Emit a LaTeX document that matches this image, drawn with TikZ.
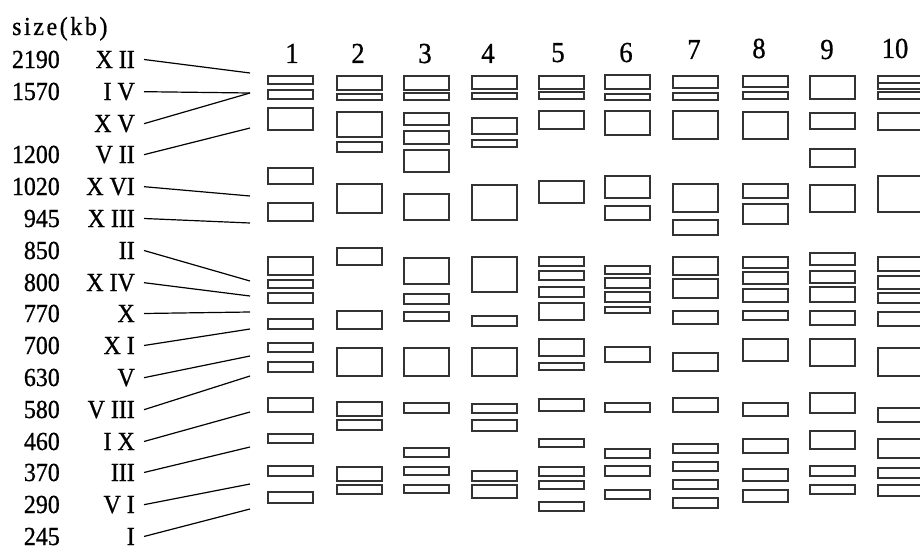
\documentclass[tikz,border=0pt]{standalone}
\usepackage{fontspec}
\setmainfont{Liberation Serif}[FakeStretch=0.92,FakeBold=0.8]
\newfontfamily\sizefont{Liberation Serif}[FakeStretch=0.92,FakeBold=0.8,LetterSpace=10]
\begin{document}
\begin{tikzpicture}[x=1pt,y=-1pt,
  band/.style={draw=black!80,line width=1.1pt,fill=white},
  conn/.style={draw=black,line width=1.2pt},
  lbl/.style={inner sep=0pt,font=\fontsize{26}{28}\selectfont,anchor=base east},
  lanenum/.style={inner sep=0pt,font=\fontsize{29}{31}\selectfont,anchor=base}]
\useasboundingbox (0,0) rectangle (920,551);
\clip (0,0) rectangle (920,551);

% header
\node[inner sep=0pt,anchor=base west,font=\fontsize{26}{28}\sizefont] (size) at (12,35) {size(kb)};

% size numbers
\node[lbl] (n1)  at (60,68)  {2190};
\node[lbl] (n2)  at (60,100) {1570};
\node[lbl] (n4)  at (60,163) {1200};
\node[lbl] (n5)  at (60,195) {1020};
\node[lbl] (n6)  at (60,227) {945};
\node[lbl] (n7)  at (60,259) {850};
\node[lbl] (n8)  at (60,291) {800};
\node[lbl] (n9)  at (60,322) {770};
\node[lbl] (n10) at (60,354) {700};
\node[lbl] (n11) at (60,386) {630};
\node[lbl] (n12) at (60,418) {580};
\node[lbl] (n13) at (60,450) {460};
\node[lbl] (n14) at (60,481) {370};
\node[lbl] (n15) at (60,513) {290};
\node[lbl] (n16) at (60,545) {245};

% chromosome labels
\node[lbl] (r1)  at (135,68)  {X II};
\node[lbl] (r2)  at (135,100) {I V};
\node[lbl] (r3)  at (135,132) {X V};
\node[lbl] (r4)  at (135,163) {V II};
\node[lbl] (r5)  at (135,195) {X VI};
\node[lbl] (r6)  at (135,227) {X III};
\node[lbl] (r7)  at (135,259) {II};
\node[lbl] (r8)  at (135,291) {X IV};
\node[lbl] (r9)  at (135,322) {X};
\node[lbl] (r10) at (135,354) {X I};
\node[lbl] (r11) at (135,386) {V};
\node[lbl] (r12) at (135,418) {V III};
\node[lbl] (r13) at (135,450) {I X};
\node[lbl] (r14) at (135,481) {III};
\node[lbl] (r15) at (135,513) {V I};
\node[lbl] (r16) at (135,545) {I};

% connector end points
\foreach \i/\y in {1/73,2/93,3/93,4/128,5/196,6/223,7/281,8/296,9/312,10/329,11/356,12/376,13/412,14/447,15/484,16/509}
  \coordinate (e\i) at (250,\y);
\foreach \i in {1,...,16}
  \draw[conn] ([xshift=9pt]r\i.east) -- (e\i);

% lane numbers
\foreach \i/\x/\y in {1/292/63,2/358/63,3/425/63,4/488/63,5/558/62,6/626/62,7/694/59,8/759/58,9/827/59,10/895/58}
  \node[lanenum] (lane\i) at (\x,\y) {\i};

% bands
\foreach \lx/\bands in {
  268/{76/84,90/99,108/130,168/184,203/221,257/275,280/288,293/303,319/329,343/352,362/372,398/412,434/443,466/476,492/503},
  337/{76/90,94/100,112/137,142/152,184/213,248/265,311/329,348/376,402/416,420/430,467/481,485/494},
  404/{76/90,93/100,113/125,131/144,150/172,194/220,258/284,294/304,312/321,348/376,403/413,448/457,467/475,485/493},
  472/{76/89,93/99,118/134,140/147,185/220,257/292,316/326,348/376,404/413,420/431,471/481,485/498},
  539/{76/89,92/99,111/129,181/203,257/266,271/280,287/297,303/320,339/356,363/370,399/411,439/447,467/476,481/489,502/511},
  605/{75/89,94/100,111/135,176/198,206/220,266/274,278/288,292/302,307/313,347/362,403/412,449/458,466/476,490/499},
  673/{76/88,93/100,111/139,184/212,220/235,257/275,279/298,311/324,353/371,398/412,444/453,462/471,480/489,498/508},
  743/{76/87,92/99,112/139,184/198,204/224,257/268,272/284,289/302,311/320,339/361,403/416,439/453,469/481,490/502},
  810/{76/99,113/129,149/167,185/212,253/265,271/283,287/302,311/325,339/366,393/413,431/449,466/476,485/494},
  878/{76/89,83/89,92/99,113/130,176/212,257/271,276/289,293/303,312/326,348/376,408/422,439/458,468/478,485/496}}
{
  \foreach \t/\b in \bands
    \draw[band] (\lx,\t) rectangle (\lx+45,\b);
}
\end{tikzpicture}
\end{document}
